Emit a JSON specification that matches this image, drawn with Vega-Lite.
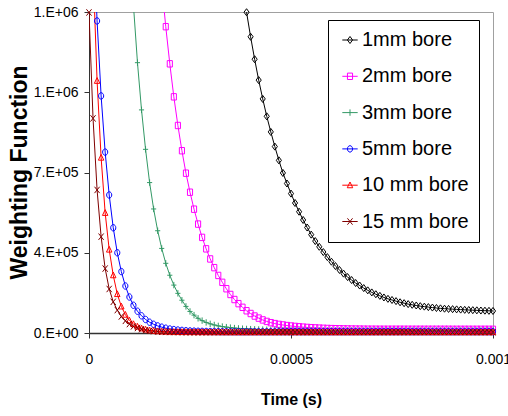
{
"$schema": "https://vega.github.io/schema/vega-lite/v6.json",
"width": 404, "height": 321,
"autosize": {"type": "none"},
"padding": {"left": 89, "top": 12, "right": 15, "bottom": 83},
"background": "white",
"config": {"view": {"stroke": "#a0a0a0", "strokeWidth": 1}, "font": "Liberation Sans"},
"data": {"values": [
{"t":0,"1mm bore":null,"2mm bore":null,"3mm bore":null,"5mm bore":null,"10 mm bore":null,"15 mm bore":1398000},
{"t":0.00001,"1mm bore":null,"2mm bore":null,"3mm bore":null,"5mm bore":1780000,"10 mm bore":1590000,"15 mm bore":936000},
{"t":0.00002,"1mm bore":null,"2mm bore":null,"3mm bore":null,"5mm bore":1361000,"10 mm bore":1100000,"15 mm bore":624000},
{"t":0.00003,"1mm bore":null,"2mm bore":null,"3mm bore":null,"5mm bore":1034000,"10 mm bore":765000,"15 mm bore":420000},
{"t":0.00004,"1mm bore":null,"2mm bore":null,"3mm bore":null,"5mm bore":789000,"10 mm bore":524000,"15 mm bore":281000},
{"t":0.00005,"1mm bore":null,"2mm bore":null,"3mm bore":null,"5mm bore":602000,"10 mm bore":364000,"15 mm bore":192000},
{"t":0.00006,"1mm bore":null,"2mm bore":null,"3mm bore":null,"5mm bore":459000,"10 mm bore":252000,"15 mm bore":136000},
{"t":0.00007,"1mm bore":null,"2mm bore":null,"3mm bore":null,"5mm bore":350000,"10 mm bore":170000,"15 mm bore":100000},
{"t":0.00008,"1mm bore":null,"2mm bore":null,"3mm bore":null,"5mm bore":268000,"10 mm bore":116000,"15 mm bore":72000},
{"t":0.00009,"1mm bore":null,"2mm bore":null,"3mm bore":null,"5mm bore":205000,"10 mm bore":80000,"15 mm bore":53000},
{"t":0.0001,"1mm bore":null,"2mm bore":null,"3mm bore":1730000,"5mm bore":157000,"10 mm bore":55000,"15 mm bore":39000},
{"t":0.00011,"1mm bore":null,"2mm bore":null,"3mm bore":1430000,"5mm bore":121000,"10 mm bore":39000,"15 mm bore":29000},
{"t":0.00012,"1mm bore":null,"2mm bore":null,"3mm bore":1179000,"5mm bore":95000,"10 mm bore":28000,"15 mm bore":22000},
{"t":0.00013,"1mm bore":null,"2mm bore":null,"3mm bore":973000,"5mm bore":75000,"10 mm bore":20500,"15 mm bore":16500},
{"t":0.00014,"1mm bore":null,"2mm bore":null,"3mm bore":801000,"5mm bore":59000,"10 mm bore":15500,"15 mm bore":12500},
{"t":0.00015,"1mm bore":null,"2mm bore":null,"3mm bore":656000,"5mm bore":47000,"10 mm bore":12000,"15 mm bore":9700},
{"t":0.00016,"1mm bore":null,"2mm bore":null,"3mm bore":541000,"5mm bore":38000,"10 mm bore":9600,"15 mm bore":7800},
{"t":0.00017,"1mm bore":null,"2mm bore":null,"3mm bore":446000,"5mm bore":31000,"10 mm bore":8000,"15 mm bore":6400},
{"t":0.00018,"1mm bore":null,"2mm bore":1520000,"3mm bore":369000,"5mm bore":25500,"10 mm bore":6800,"15 mm bore":5400},
{"t":0.00019,"1mm bore":null,"2mm bore":1336000,"3mm bore":304000,"5mm bore":21000,"10 mm bore":6000,"15 mm bore":4700},
{"t":0.0002,"1mm bore":null,"2mm bore":1174000,"3mm bore":252000,"5mm bore":17500,"10 mm bore":5400,"15 mm bore":4200},
{"t":0.00021,"1mm bore":null,"2mm bore":1030000,"3mm bore":209000,"5mm bore":15000,"10 mm bore":5000,"15 mm bore":3900},
{"t":0.00022,"1mm bore":null,"2mm bore":905000,"3mm bore":173000,"5mm bore":13000,"10 mm bore":4700,"15 mm bore":3700},
{"t":0.00023,"1mm bore":null,"2mm bore":795000,"3mm bore":143000,"5mm bore":11400,"10 mm bore":4500,"15 mm bore":3500},
{"t":0.00024,"1mm bore":null,"2mm bore":697000,"3mm bore":116000,"5mm bore":10000,"10 mm bore":4300,"15 mm bore":3400},
{"t":0.00025,"1mm bore":null,"2mm bore":614000,"3mm bore":94000,"5mm bore":9000,"10 mm bore":4200,"15 mm bore":3300},
{"t":0.00026,"1mm bore":null,"2mm bore":540000,"3mm bore":78000,"5mm bore":8200,"10 mm bore":4100,"15 mm bore":3200},
{"t":0.00027,"1mm bore":null,"2mm bore":475000,"3mm bore":64000,"5mm bore":7600,"10 mm bore":4000,"15 mm bore":3200},
{"t":0.00028,"1mm bore":null,"2mm bore":417000,"3mm bore":54000,"5mm bore":7100,"10 mm bore":4000,"15 mm bore":3200},
{"t":0.00029,"1mm bore":null,"2mm bore":367000,"3mm bore":46000,"5mm bore":6700,"10 mm bore":4000,"15 mm bore":3200},
{"t":0.0003,"1mm bore":null,"2mm bore":323000,"3mm bore":40000,"5mm bore":6400,"10 mm bore":4000,"15 mm bore":3200},
{"t":0.00031,"1mm bore":null,"2mm bore":285000,"3mm bore":35000,"5mm bore":6200,"10 mm bore":4000,"15 mm bore":3200},
{"t":0.00032,"1mm bore":null,"2mm bore":251000,"3mm bore":31000,"5mm bore":6000,"10 mm bore":4000,"15 mm bore":3200},
{"t":0.00033,"1mm bore":null,"2mm bore":221000,"3mm bore":28000,"5mm bore":5800,"10 mm bore":4000,"15 mm bore":3200},
{"t":0.00034,"1mm bore":null,"2mm bore":193000,"3mm bore":25500,"5mm bore":5700,"10 mm bore":4000,"15 mm bore":3200},
{"t":0.00035,"1mm bore":null,"2mm bore":168000,"3mm bore":23500,"5mm bore":5600,"10 mm bore":4000,"15 mm bore":3200},
{"t":0.00036,"1mm bore":null,"2mm bore":146000,"3mm bore":21500,"5mm bore":5500,"10 mm bore":4000,"15 mm bore":3200},
{"t":0.00037,"1mm bore":null,"2mm bore":128000,"3mm bore":20000,"5mm bore":5500,"10 mm bore":4000,"15 mm bore":3200},
{"t":0.00038,"1mm bore":1515000,"2mm bore":112000,"3mm bore":18800,"5mm bore":5500,"10 mm bore":4000,"15 mm bore":3200},
{"t":0.00039,"1mm bore":1399000,"2mm bore":97000,"3mm bore":17700,"5mm bore":5500,"10 mm bore":4000,"15 mm bore":3200},
{"t":0.0004,"1mm bore":1292000,"2mm bore":85000,"3mm bore":16800,"5mm bore":5500,"10 mm bore":4000,"15 mm bore":3200},
{"t":0.00041,"1mm bore":1194000,"2mm bore":74000,"3mm bore":16000,"5mm bore":5500,"10 mm bore":4000,"15 mm bore":3200},
{"t":0.00042,"1mm bore":1103000,"2mm bore":65000,"3mm bore":15300,"5mm bore":5500,"10 mm bore":4000,"15 mm bore":3200},
{"t":0.00043,"1mm bore":1021000,"2mm bore":57000,"3mm bore":14700,"5mm bore":5500,"10 mm bore":4000,"15 mm bore":3200},
{"t":0.00044,"1mm bore":945000,"2mm bore":50500,"3mm bore":14200,"5mm bore":5500,"10 mm bore":4000,"15 mm bore":3200},
{"t":0.00045,"1mm bore":877000,"2mm bore":45000,"3mm bore":13800,"5mm bore":5500,"10 mm bore":4000,"15 mm bore":3200},
{"t":0.00046,"1mm bore":813000,"2mm bore":41000,"3mm bore":13400,"5mm bore":5500,"10 mm bore":4000,"15 mm bore":3200},
{"t":0.00047,"1mm bore":753000,"2mm bore":37500,"3mm bore":13000,"5mm bore":5500,"10 mm bore":4000,"15 mm bore":3200},
{"t":0.00048,"1mm bore":698000,"2mm bore":35000,"3mm bore":12700,"5mm bore":5500,"10 mm bore":4000,"15 mm bore":3200},
{"t":0.00049,"1mm bore":652000,"2mm bore":32500,"3mm bore":12400,"5mm bore":5500,"10 mm bore":4000,"15 mm bore":3200},
{"t":0.0005,"1mm bore":608000,"2mm bore":30500,"3mm bore":12200,"5mm bore":5500,"10 mm bore":4000,"15 mm bore":3200},
{"t":0.00051,"1mm bore":567000,"2mm bore":28700,"3mm bore":12000,"5mm bore":5500,"10 mm bore":4000,"15 mm bore":3200},
{"t":0.00052,"1mm bore":529000,"2mm bore":27000,"3mm bore":11800,"5mm bore":5500,"10 mm bore":4000,"15 mm bore":3200},
{"t":0.00053,"1mm bore":493000,"2mm bore":25600,"3mm bore":11600,"5mm bore":5500,"10 mm bore":4000,"15 mm bore":3200},
{"t":0.00054,"1mm bore":460000,"2mm bore":24300,"3mm bore":11500,"5mm bore":5500,"10 mm bore":4000,"15 mm bore":3200},
{"t":0.00055,"1mm bore":429000,"2mm bore":23200,"3mm bore":11400,"5mm bore":5500,"10 mm bore":4000,"15 mm bore":3200},
{"t":0.00056,"1mm bore":401000,"2mm bore":22200,"3mm bore":11300,"5mm bore":5500,"10 mm bore":4000,"15 mm bore":3200},
{"t":0.00057,"1mm bore":376000,"2mm bore":21300,"3mm bore":11200,"5mm bore":5500,"10 mm bore":4000,"15 mm bore":3200},
{"t":0.00058,"1mm bore":353000,"2mm bore":20500,"3mm bore":11100,"5mm bore":5500,"10 mm bore":4000,"15 mm bore":3200},
{"t":0.00059,"1mm bore":331000,"2mm bore":19800,"3mm bore":11000,"5mm bore":5500,"10 mm bore":4000,"15 mm bore":3200},
{"t":0.0006,"1mm bore":311000,"2mm bore":19200,"3mm bore":11000,"5mm bore":5500,"10 mm bore":4000,"15 mm bore":3200},
{"t":0.00061,"1mm bore":292000,"2mm bore":18700,"3mm bore":11000,"5mm bore":5500,"10 mm bore":4000,"15 mm bore":3200},
{"t":0.00062,"1mm bore":275000,"2mm bore":18300,"3mm bore":11000,"5mm bore":5500,"10 mm bore":4000,"15 mm bore":3200},
{"t":0.00063,"1mm bore":259000,"2mm bore":17900,"3mm bore":11000,"5mm bore":5500,"10 mm bore":4000,"15 mm bore":3200},
{"t":0.00064,"1mm bore":244000,"2mm bore":17600,"3mm bore":11000,"5mm bore":5500,"10 mm bore":4000,"15 mm bore":3200},
{"t":0.00065,"1mm bore":231000,"2mm bore":17300,"3mm bore":11000,"5mm bore":5500,"10 mm bore":4000,"15 mm bore":3200},
{"t":0.00066,"1mm bore":218000,"2mm bore":17100,"3mm bore":11000,"5mm bore":5500,"10 mm bore":4000,"15 mm bore":3200},
{"t":0.00067,"1mm bore":207000,"2mm bore":16900,"3mm bore":11000,"5mm bore":5500,"10 mm bore":4000,"15 mm bore":3200},
{"t":0.00068,"1mm bore":196000,"2mm bore":16700,"3mm bore":11000,"5mm bore":5500,"10 mm bore":4000,"15 mm bore":3200},
{"t":0.00069,"1mm bore":186000,"2mm bore":16500,"3mm bore":11000,"5mm bore":5500,"10 mm bore":4000,"15 mm bore":3200},
{"t":0.0007,"1mm bore":177000,"2mm bore":16400,"3mm bore":11000,"5mm bore":5500,"10 mm bore":4000,"15 mm bore":3200},
{"t":0.00071,"1mm bore":169000,"2mm bore":16300,"3mm bore":11000,"5mm bore":5500,"10 mm bore":4000,"15 mm bore":3200},
{"t":0.00072,"1mm bore":162000,"2mm bore":16200,"3mm bore":11000,"5mm bore":5500,"10 mm bore":4000,"15 mm bore":3200},
{"t":0.00073,"1mm bore":155000,"2mm bore":16200,"3mm bore":11000,"5mm bore":5500,"10 mm bore":4000,"15 mm bore":3200},
{"t":0.00074,"1mm bore":149000,"2mm bore":16200,"3mm bore":11000,"5mm bore":5500,"10 mm bore":4000,"15 mm bore":3200},
{"t":0.00075,"1mm bore":144000,"2mm bore":16200,"3mm bore":11000,"5mm bore":5500,"10 mm bore":4000,"15 mm bore":3200},
{"t":0.00076,"1mm bore":139000,"2mm bore":16200,"3mm bore":11000,"5mm bore":5500,"10 mm bore":4000,"15 mm bore":3200},
{"t":0.00077,"1mm bore":134000,"2mm bore":16200,"3mm bore":11000,"5mm bore":5500,"10 mm bore":4000,"15 mm bore":3200},
{"t":0.00078,"1mm bore":130000,"2mm bore":16200,"3mm bore":11000,"5mm bore":5500,"10 mm bore":4000,"15 mm bore":3200},
{"t":0.00079,"1mm bore":126000,"2mm bore":16200,"3mm bore":11000,"5mm bore":5500,"10 mm bore":4000,"15 mm bore":3200},
{"t":0.0008,"1mm bore":123000,"2mm bore":16100,"3mm bore":11000,"5mm bore":5500,"10 mm bore":4000,"15 mm bore":3200},
{"t":0.00081,"1mm bore":120000,"2mm bore":16100,"3mm bore":11000,"5mm bore":5500,"10 mm bore":4000,"15 mm bore":3200},
{"t":0.00082,"1mm bore":117000,"2mm bore":16100,"3mm bore":11000,"5mm bore":5500,"10 mm bore":4000,"15 mm bore":3200},
{"t":0.00083,"1mm bore":115000,"2mm bore":16100,"3mm bore":11000,"5mm bore":5500,"10 mm bore":4000,"15 mm bore":3200},
{"t":0.00084,"1mm bore":113000,"2mm bore":16100,"3mm bore":11000,"5mm bore":5500,"10 mm bore":4000,"15 mm bore":3200},
{"t":0.00085,"1mm bore":111000,"2mm bore":16100,"3mm bore":11000,"5mm bore":5500,"10 mm bore":4000,"15 mm bore":3200},
{"t":0.00086,"1mm bore":109000,"2mm bore":16100,"3mm bore":11000,"5mm bore":5500,"10 mm bore":4000,"15 mm bore":3200},
{"t":0.00087,"1mm bore":107500,"2mm bore":16100,"3mm bore":11000,"5mm bore":5500,"10 mm bore":4000,"15 mm bore":3200},
{"t":0.00088,"1mm bore":106000,"2mm bore":16100,"3mm bore":11000,"5mm bore":5500,"10 mm bore":4000,"15 mm bore":3200},
{"t":0.00089,"1mm bore":105000,"2mm bore":16100,"3mm bore":11000,"5mm bore":5500,"10 mm bore":4000,"15 mm bore":3200},
{"t":0.0009,"1mm bore":104000,"2mm bore":16000,"3mm bore":11000,"5mm bore":5500,"10 mm bore":4000,"15 mm bore":3200},
{"t":0.00091,"1mm bore":103000,"2mm bore":16000,"3mm bore":11000,"5mm bore":5500,"10 mm bore":4000,"15 mm bore":3200},
{"t":0.00092,"1mm bore":102000,"2mm bore":16000,"3mm bore":11000,"5mm bore":5500,"10 mm bore":4000,"15 mm bore":3200},
{"t":0.00093,"1mm bore":101000,"2mm bore":16000,"3mm bore":11000,"5mm bore":5500,"10 mm bore":4000,"15 mm bore":3200},
{"t":0.00094,"1mm bore":100300,"2mm bore":16000,"3mm bore":11000,"5mm bore":5500,"10 mm bore":4000,"15 mm bore":3200},
{"t":0.00095,"1mm bore":99500,"2mm bore":16000,"3mm bore":11000,"5mm bore":5500,"10 mm bore":4000,"15 mm bore":3200},
{"t":0.00096,"1mm bore":98800,"2mm bore":16000,"3mm bore":11000,"5mm bore":5500,"10 mm bore":4000,"15 mm bore":3200},
{"t":0.00097,"1mm bore":98000,"2mm bore":16000,"3mm bore":11000,"5mm bore":5500,"10 mm bore":4000,"15 mm bore":3200},
{"t":0.00098,"1mm bore":97300,"2mm bore":16000,"3mm bore":11000,"5mm bore":5500,"10 mm bore":4000,"15 mm bore":3200},
{"t":0.00099,"1mm bore":96700,"2mm bore":16000,"3mm bore":11000,"5mm bore":5500,"10 mm bore":4000,"15 mm bore":3200},
{"t":0.001,"1mm bore":96000,"2mm bore":16000,"3mm bore":11000,"5mm bore":5500,"10 mm bore":4000,"15 mm bore":3200}
]},
"transform": [{"fold": ["1mm bore","2mm bore","3mm bore","5mm bore","10 mm bore","15 mm bore"], "as": ["series","w"]}],
"encoding": {
  "x": {"field": "t", "type": "quantitative",
    "scale": {"domain": [0, 0.001], "nice": false},
    "axis": {"title": "Time (s)", "values": [0, 0.0005, 0.001], "format": ".4~f", "grid": false,
      "labelFlush": false, "labelFontSize": 14, "labelColor": "#000", "labelPadding": 14,
      "tickSize": 5, "tickColor": "#333", "domainColor": "#333", "domainWidth": 1.5,
      "titleFontSize": 16, "titleFontWeight": "bold", "titleColor": "#000",
      "titleX": 202, "titleY": 66, "titleBaseline": "middle", "titleAlign": "center"}},
  "y": {"field": "w", "type": "quantitative",
    "scale": {"domain": [0, 1400000], "nice": false},
    "axis": {"title": "Weighting Function", "values": [0, 350000, 700000, 1050000, 1400000],
      "labelExpr": "datum.value == 0 ? '0.E+00' : round(datum.value / pow(10, floor(log(datum.value) / LN10))) + '.E+0' + floor(log(datum.value) / LN10)",
      "grid": false, "labelFlush": false, "labelFontSize": 14, "labelColor": "#000", "labelPadding": 6,
      "tickSize": 5, "tickColor": "#333", "domainColor": "#333",
      "titleFontSize": 23, "titleFontWeight": "bold", "titleColor": "#000",
      "titleX": -70, "titleY": 160, "titleAngle": 270, "titleBaseline": "middle", "titleAlign": "center"}},
  "color": {"field": "series", "type": "nominal",
    "scale": {"domain": ["1mm bore","2mm bore","3mm bore","5mm bore","10 mm bore","15 mm bore"],
              "range": ["#000000","#ff00ff","#339966","#0000ff","#ff0000","#800000"]},
    "legend": {"title": null, "orient": "none", "legendX": 239, "legendY": 8, "direction": "vertical",
      "strokeColor": "#000", "fillColor": "#fff", "padding": 10, "symbolOffset": 2,
      "labelFontSize": 20, "labelColor": "#000", "rowPadding": 16.3, "labelOffset": 2,
      "symbolSize": 41, "symbolStrokeWidth": 1, "zindex": 1,
      "encode": {"symbols": {"update": {"fill": {"value": "transparent"}}}}}}
},
"layer": [
  {"mark": {"type": "line", "clip": true, "strokeWidth": 1}},
  {"transform": [{"filter": "datum.series == '1mm bore' && datum.w != null && datum.w <= 1400000"}],
   "mark": {"type": "point", "shape": "M0,-1.1L0.8,0L0,1.1L-0.8,0Z", "filled": false, "strokeWidth": 1, "size": 41, "opacity": 1}},
  {"transform": [{"filter": "datum.series == '2mm bore' && datum.w != null && datum.w <= 1400000"}],
   "mark": {"type": "point", "shape": "M-0.8,-1H0.8V1H-0.8Z", "filled": false, "strokeWidth": 1, "size": 41, "opacity": 1}},
  {"transform": [{"filter": "datum.series == '3mm bore' && datum.w != null && datum.w <= 1400000"}],
   "mark": {"type": "point", "shape": "M-0.8,0H0.8M0,-1V1", "filled": false, "strokeWidth": 1, "size": 41, "opacity": 1}},
  {"transform": [{"filter": "datum.series == '5mm bore' && datum.w != null && datum.w <= 1400000"}],
   "mark": {"type": "point", "shape": "M0,-1A0.8,1 0 1,1 0,1A0.8,1 0 1,1 0,-1Z", "filled": false, "strokeWidth": 1, "size": 41, "opacity": 1}},
  {"transform": [{"filter": "datum.series == '10 mm bore' && datum.w != null && datum.w <= 1400000"}],
   "mark": {"type": "point", "shape": "M0,-1L0.85,0.8H-0.85Z", "filled": false, "strokeWidth": 1, "size": 41, "opacity": 1}},
  {"transform": [{"filter": "datum.series == '15 mm bore' && datum.w != null && datum.w <= 1400000"}],
   "mark": {"type": "point", "shape": "M-0.8,-1L0.8,1M-0.8,1L0.8,-1", "filled": false, "strokeWidth": 1, "size": 41, "opacity": 1}},
  {"transform": [{"filter": "datum.w != null && datum.w < 0"}],
   "mark": {"type": "point", "filled": false, "strokeWidth": 1, "size": 41, "opacity": 1},
   "encoding": {"shape": {"field": "series", "type": "nominal",
     "scale": {"domain": ["1mm bore","2mm bore","3mm bore","5mm bore","10 mm bore","15 mm bore"],
       "range": ["M-2.4,0H2.4M0,-1.1L0.8,0L0,1.1L-0.8,0Z","M-2.4,0H2.4M-0.8,-1H0.8V1H-0.8Z","M-2.4,0H2.4M0,-1V1","M-2.4,0H2.4M0,-1A0.8,1 0 1,1 0,1A0.8,1 0 1,1 0,-1Z","M-2.4,0H2.4M0,-1L0.85,0.8H-0.85Z","M-2.4,0H2.4M-0.8,-1L0.8,1M-0.8,1L0.8,-1"]},
     "legend": {"title": null, "orient": "none", "legendX": 239, "legendY": 8, "direction": "vertical",
      "strokeColor": "#000", "fillColor": "#fff", "padding": 10, "symbolOffset": 2,
      "labelFontSize": 20, "labelColor": "#000", "rowPadding": 16.3, "labelOffset": 2,
      "symbolSize": 41, "symbolStrokeWidth": 1, "zindex": 1,
      "encode": {"symbols": {"update": {"fill": {"value": "transparent"}}}}}}}}
]
}
